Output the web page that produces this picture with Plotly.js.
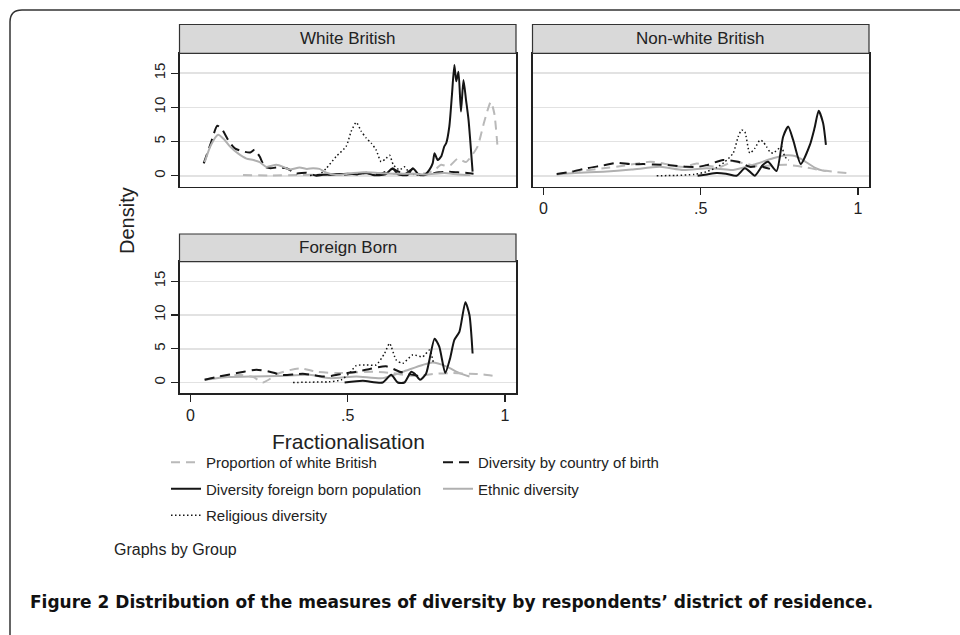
<!DOCTYPE html>
<html>
<head>
<meta charset="utf-8">
<script src="https://cdn.plot.ly/plotly-3.0.1.min.js"></script>
<style>html,body{margin:0;padding:0;background:#fff;}#chart{width:960px;height:635px;}</style>
</head>
<body>
<div id="chart"></div>
<script>
// ---- Data ----
const panels = ["White British", "Non-white British", "Foreign Born"];
const seriesNames = ["Proportion of white British", "Diversity by country of birth",
  "Diversity foreign born population", "Ethnic diversity", "Religious diversity"];
const xTickVals = [0, 0.5, 1];
const xTickText = ["0", ".5", "1"];
const yTickVals = [0, 5, 10, 15];

// White British
const wb_pwb_x = [0.167, 0.25, 0.35, 0.45, 0.55, 0.65, 0.72, 0.755, 0.78, 0.797, 0.815, 0.828, 0.85, 0.876, 0.895, 0.913, 0.934, 0.955, 0.966, 0.977];
const wb_pwb_y = [0.1, 0.05, 0.1, 0.2, 0.3, 0.3, 0.3, 0.4, 1.0, 1.6, 1.4, 1.6, 2.5, 2.0, 3.0, 4.3, 7.9, 10.8, 9.1, 3.8];
const wb_cob_x = [0.042, 0.065, 0.085, 0.1, 0.12, 0.141, 0.172, 0.19, 0.204, 0.22, 0.236, 0.255, 0.273, 0.305, 0.336, 0.368, 0.40, 0.43, 0.47, 0.52, 0.56, 0.6, 0.643, 0.68, 0.707, 0.73, 0.76, 0.79, 0.82, 0.85, 0.88, 0.9];
const wb_cob_y = [1.8, 4.8, 7.3, 6.8, 5.2, 4.0, 3.5, 3.4, 3.8, 2.8, 1.3, 1.1, 1.2, 1.1, 0.35, 0.45, 0.0, 0.2, 0.1, 0.3, 0.4, 0.2, 1.0, 0.2, 1.0, 0.1, 0.3, 0.5, 0.6, 0.5, 0.4, 0.3];
const wb_fb_x = [0.40, 0.45, 0.50, 0.53, 0.559, 0.58, 0.62, 0.643, 0.66, 0.69, 0.707, 0.725, 0.744, 0.76, 0.77, 0.776, 0.786, 0.797, 0.807, 0.813, 0.823, 0.831, 0.839, 0.845, 0.852, 0.86, 0.868, 0.876, 0.884, 0.897];
const wb_fb_y = [0.1, 0.2, 0.3, 0.2, 0.45, 0.1, 0.2, 1.1, 0.2, 0.1, 1.1, 0.2, 0.1, 0.9, 1.8, 3.3, 2.3, 2.8, 4.3, 4.75, 7.2, 11.6, 16.2, 13.8, 15.2, 9.4, 14.0, 11.1, 8.2, 0.6];
const wb_eth_x = [0.045, 0.065, 0.088, 0.105, 0.125, 0.15, 0.178, 0.2, 0.22, 0.241, 0.273, 0.295, 0.315, 0.347, 0.37, 0.39, 0.41, 0.432, 0.463, 0.5, 0.55, 0.6, 0.65, 0.7, 0.75, 0.807, 0.85, 0.89];
const wb_eth_y = [2.0, 4.5, 6.0, 5.4, 4.3, 3.3, 2.5, 2.3, 2.0, 1.3, 1.6, 1.3, 0.9, 1.2, 1.0, 1.1, 1.0, 0.45, 0.1, 0.3, 0.5, 0.4, 0.3, 0.3, 0.2, 0.4, 0.2, 0.1];
const wb_rel_x = [0.38, 0.41, 0.432, 0.463, 0.495, 0.511, 0.527, 0.543, 0.559, 0.575, 0.59, 0.606, 0.622, 0.633, 0.645, 0.665, 0.68, 0.696, 0.71, 0.73];
const wb_rel_y = [0.05, 0.2, 1.1, 2.8, 4.3, 6.5, 7.8, 6.5, 5.5, 4.75, 3.8, 2.05, 2.55, 3.0, 1.6, 0.85, 1.3, 0.45, 0.2, 0.05];

// Non-white British
const nwb_pwb_x = [0.042, 0.1, 0.19, 0.26, 0.339, 0.381, 0.42, 0.45, 0.487, 0.52, 0.561, 0.603, 0.64, 0.68, 0.72, 0.772, 0.825, 0.878, 0.92, 0.973];
const nwb_pwb_y = [0.2, 0.6, 1.1, 1.5, 2.05, 1.8, 1.4, 1.3, 1.8, 1.5, 1.3, 2.05, 1.8, 1.4, 1.5, 1.6, 1.3, 0.85, 0.6, 0.35];
const nwb_cob_x = [0.042, 0.09, 0.138, 0.19, 0.233, 0.275, 0.32, 0.349, 0.402, 0.455, 0.49, 0.519, 0.571, 0.619, 0.656, 0.688, 0.72];
const nwb_cob_y = [0.25, 0.6, 1.1, 1.5, 1.9, 1.7, 1.7, 1.65, 1.55, 1.3, 1.3, 1.55, 2.3, 2.05, 1.3, 1.4, 1.0];
const nwb_fb_x = [0.49, 0.52, 0.55, 0.58, 0.614, 0.64, 0.656, 0.672, 0.698, 0.714, 0.741, 0.762, 0.778, 0.794, 0.818, 0.847, 0.862, 0.875, 0.889, 0.898];
const nwb_fb_y = [0.0, 0.2, 0.4, 0.3, 0.0, 1.1, 0.6, 0.0, 1.6, 2.05, 0.7, 5.7, 7.2, 5.2, 1.7, 4.5, 7.0, 9.5, 7.7, 4.5];
const nwb_eth_x = [0.042, 0.1, 0.19, 0.28, 0.37, 0.444, 0.519, 0.56, 0.603, 0.667, 0.73, 0.772, 0.8, 0.825, 0.862, 0.889, 0.9];
const nwb_eth_y = [0.2, 0.4, 0.6, 0.9, 1.3, 0.85, 1.1, 1.0, 0.85, 1.6, 2.55, 3.0, 2.9, 2.3, 1.2, 0.75, 0.7];
const nwb_rel_x = [0.36, 0.42, 0.48, 0.519, 0.55, 0.577, 0.603, 0.619, 0.63, 0.64, 0.656, 0.672, 0.688, 0.698, 0.709, 0.72, 0.73, 0.757, 0.767, 0.78];
const nwb_rel_y = [0.0, 0.05, 0.2, 0.6, 1.2, 2.05, 3.3, 5.7, 6.7, 6.45, 3.3, 4.0, 5.2, 5.0, 4.25, 3.5, 3.3, 4.25, 2.8, 2.3];

// Foreign Born
const fb_pwb_x = [0.045, 0.1, 0.16, 0.2, 0.23, 0.283, 0.347, 0.4, 0.463, 0.52, 0.58, 0.64, 0.7, 0.74, 0.781, 0.83, 0.887, 0.93, 0.977];
const fb_pwb_y = [0.4, 0.9, 1.1, 0.8, 0.0, 1.4, 2.1, 1.6, 1.4, 1.5, 1.6, 1.4, 1.0, 1.1, 1.3, 1.4, 1.3, 1.2, 0.9];
const fb_cob_x = [0.045, 0.09, 0.125, 0.17, 0.21, 0.252, 0.294, 0.33, 0.357, 0.39, 0.421, 0.45, 0.484, 0.527, 0.57, 0.622, 0.665, 0.7, 0.73];
const fb_cob_y = [0.4, 0.9, 1.2, 1.6, 1.9, 1.6, 1.1, 1.2, 1.3, 1.1, 0.9, 1.0, 1.3, 1.6, 2.0, 2.4, 1.6, 1.2, 0.9];
const fb_fb_x = [0.49, 0.548, 0.611, 0.638, 0.659, 0.68, 0.702, 0.715, 0.73, 0.749, 0.776, 0.791, 0.81, 0.825, 0.839, 0.855, 0.874, 0.887, 0.897];
const fb_fb_y = [0.0, 0.25, 0.0, 1.15, 0.0, 0.0, 1.6, 1.2, 0.4, 1.3, 6.5, 5.3, 1.4, 3.5, 6.3, 7.5, 11.9, 10.0, 4.3];
const fb_eth_x = [0.045, 0.12, 0.199, 0.28, 0.379, 0.442, 0.527, 0.611, 0.675, 0.738, 0.77, 0.813, 0.855, 0.887];
const fb_eth_y = [0.4, 0.8, 0.9, 0.95, 1.15, 0.65, 0.9, 0.65, 1.6, 2.6, 2.95, 2.4, 1.4, 0.9];
const fb_rel_x = [0.326, 0.38, 0.44, 0.48, 0.506, 0.527, 0.56, 0.59, 0.617, 0.633, 0.654, 0.675, 0.707, 0.738, 0.76, 0.772];
const fb_rel_y = [0.0, 0.05, 0.1, 0.4, 1.4, 2.5, 2.6, 2.6, 4.3, 5.8, 3.35, 2.85, 4.1, 3.8, 4.8, 3.0];

// ---- Styles ----
const styles = [
  {color: "#b9b9b9", width: 2, dash: "9px,6px"},   // Proportion of white British
  {color: "#151515", width: 2, dash: "10px,6px"},  // Diversity by country of birth
  {color: "#151515", width: 2, dash: "solid"},     // Diversity foreign born population
  {color: "#b0b0b0", width: 2, dash: "solid"},     // Ethnic diversity
  {color: "#151515", width: 1.5, dash: "1.5px,2.5px"} // Religious diversity
];
const legendOf = ["legend", "legend2", "legend", "legend2", "legend"];

const panelData = [
  [[wb_pwb_x, wb_pwb_y], [wb_cob_x, wb_cob_y], [wb_fb_x, wb_fb_y], [wb_eth_x, wb_eth_y], [wb_rel_x, wb_rel_y]],
  [[nwb_pwb_x, nwb_pwb_y], [nwb_cob_x, nwb_cob_y], [nwb_fb_x, nwb_fb_y], [nwb_eth_x, nwb_eth_y], [nwb_rel_x, nwb_rel_y]],
  [[fb_pwb_x, fb_pwb_y], [fb_cob_x, fb_cob_y], [fb_fb_x, fb_fb_y], [fb_eth_x, fb_eth_y], [fb_rel_x, fb_rel_y]]
];
const axisSuffix = ["", "2", "3"];
const drawOrder = [3, 0, 4, 1, 2];

const traces = [];
[0, 2, 4, 1, 3].forEach(function (s) {
  traces.push({
    type: "scatter", mode: "lines", name: seriesNames[s],
    x: panelData[0][s][0], y: panelData[0][s][1],
    xaxis: "x", yaxis: "y",
    line: Object.assign({shape: "spline", smoothing: 0.6}, styles[s]),
    showlegend: true, legend: legendOf[s], legendgroup: "g" + s,
    hoverinfo: "skip"
  });
});
for (let p = 1; p < 3; p++) {
  drawOrder.forEach(function (s) {
    traces.push({
      type: "scatter", mode: "lines", name: seriesNames[s],
      x: panelData[p][s][0], y: panelData[p][s][1],
      xaxis: "x" + axisSuffix[p], yaxis: "y" + axisSuffix[p],
      line: Object.assign({shape: "spline", smoothing: 0.6}, styles[s]),
      showlegend: false, hoverinfo: "skip"
    });
  });
}

// ---- Layout (pixel helpers to paper coords) ----
const W = 960, H = 635;
const px = v => v / W;
const py = v => 1 - v / H;

const col1 = [px(179.5), px(516)];
const col2 = [px(532.5), px(869)];
const row1 = [py(186.7), py(53.3)];
const row2 = [py(393.3), py(261.7)];
const hdr1 = [py(53.3), py(24.5)];
const hdr2 = [py(261.7), py(234)];
const xr = [-0.035, 1.035];
const yr = [-1.6, 17.9];
const FONT = "'Liberation Sans', Arial, Helvetica, sans-serif";

const frame = {showline: true, mirror: true, linecolor: "#222", linewidth: 1.5, zeroline: false};
function xax(dom, anchor, labels) {
  return Object.assign({}, frame, {
    domain: dom, anchor: anchor, range: xr, showgrid: false,
    tickmode: "array", tickvals: xTickVals, ticktext: xTickText,
    ticks: labels ? "outside" : "", ticklen: 7, tickwidth: 1.2, tickcolor: "#222",
    showticklabels: labels, tickfont: {size: 16, color: "#222", family: FONT}
  });
}
function yax(dom, anchor, labels) {
  return Object.assign({}, frame, {
    domain: dom, anchor: anchor, range: yr,
    tickmode: "array", tickvals: yTickVals,
    showgrid: true, gridcolor: "#e2e2e2", gridwidth: 1.5,
    ticks: labels ? "outside" : "", ticklen: 7, tickwidth: 1.2, tickcolor: "#222",
    showticklabels: labels, tickangle: -90, tickfont: {size: 15, color: "#222", family: FONT}
  });
}

const shapes = [
  {type: "rect", xref: "paper", yref: "paper", x0: col1[0], x1: col1[1], y0: hdr1[0], y1: hdr1[1],
   fillcolor: "#d9d9d9", line: {color: "#333", width: 1.2}},
  {type: "rect", xref: "paper", yref: "paper", x0: col2[0], x1: col2[1], y0: hdr1[0], y1: hdr1[1],
   fillcolor: "#d9d9d9", line: {color: "#333", width: 1.2}},
  {type: "rect", xref: "paper", yref: "paper", x0: col1[0], x1: col1[1], y0: hdr2[0], y1: hdr2[1],
   fillcolor: "#d9d9d9", line: {color: "#333", width: 1.2}},
  {type: "path", xref: "paper", yref: "paper",
   path: "M " + px(10) + "," + py(660) + " L " + px(10) + "," + py(22) + " Q " + px(10) + "," + py(10) + " " + px(22) + "," + py(10) + " L " + px(990) + "," + py(10),
   line: {color: "#333", width: 1.5}}
];

const annotations = [
  {text: panels[0], x: (col1[0] + col1[1]) / 2, y: (hdr1[0] + hdr1[1]) / 2},
  {text: panels[1], x: (col2[0] + col2[1]) / 2, y: (hdr1[0] + hdr1[1]) / 2},
  {text: panels[2], x: (col1[0] + col1[1]) / 2, y: (hdr2[0] + hdr2[1]) / 2}
].map(a => Object.assign({xref: "paper", yref: "paper", showarrow: false, xanchor: "center", yanchor: "middle",
  font: {size: 17, color: "#222", family: FONT}}, a));

annotations.push({xref: "paper", yref: "paper", showarrow: false, text: "Density", textangle: -90,
  x: px(127), y: py(221), xanchor: "center", yanchor: "middle", font: {size: 20, color: "#222", family: FONT}});
annotations.push({xref: "paper", yref: "paper", showarrow: false, text: "Fractionalisation",
  x: px(348), y: py(441), xanchor: "center", yanchor: "middle", font: {size: 21, color: "#222", family: FONT}});
annotations.push({xref: "paper", yref: "paper", showarrow: false, text: "Graphs by Group",
  x: px(112), y: py(549), xanchor: "left", yanchor: "middle", font: {size: 16, color: "#222", family: FONT}});
annotations.push({xref: "paper", yref: "paper", showarrow: false,
  text: "<b>Figure 2 Distribution of the measures of diversity by respondents’ district of residence.</b>",
  x: px(28), y: py(602), xanchor: "left", yanchor: "middle",
  font: {size: 17, color: "#111", family: "'DejaVu Sans', sans-serif"}});

const legendBase = {orientation: "v", xanchor: "left", yanchor: "top", bgcolor: "rgba(0,0,0,0)",
  borderwidth: 0, font: {size: 15, color: "#222", family: FONT}, tracegroupgap: 4, itemwidth: 30,
  xref: "paper", yref: "paper"};

const layout = {
  width: W, height: H,
  margin: {l: 0, r: 0, t: 0, b: 0},
  paper_bgcolor: "#fff", plot_bgcolor: "#fff",
  font: {family: FONT, color: "#222"},
  xaxis: xax(col1, "y", false),
  yaxis: yax(row1, "x", true),
  xaxis2: xax(col2, "y2", true),
  yaxis2: yax(row1, "x2", false),
  xaxis3: xax(col1, "y3", true),
  yaxis3: yax(row2, "x3", true),
  legend: Object.assign({}, legendBase, {x: px(166), y: py(446)}),
  legend2: Object.assign({}, legendBase, {x: px(438), y: py(446)}),
  shapes: shapes,
  annotations: annotations,
  showlegend: true
};

Plotly.newPlot("chart", traces, layout, {displayModeBar: false, staticPlot: true});
</script>
</body>
</html>
